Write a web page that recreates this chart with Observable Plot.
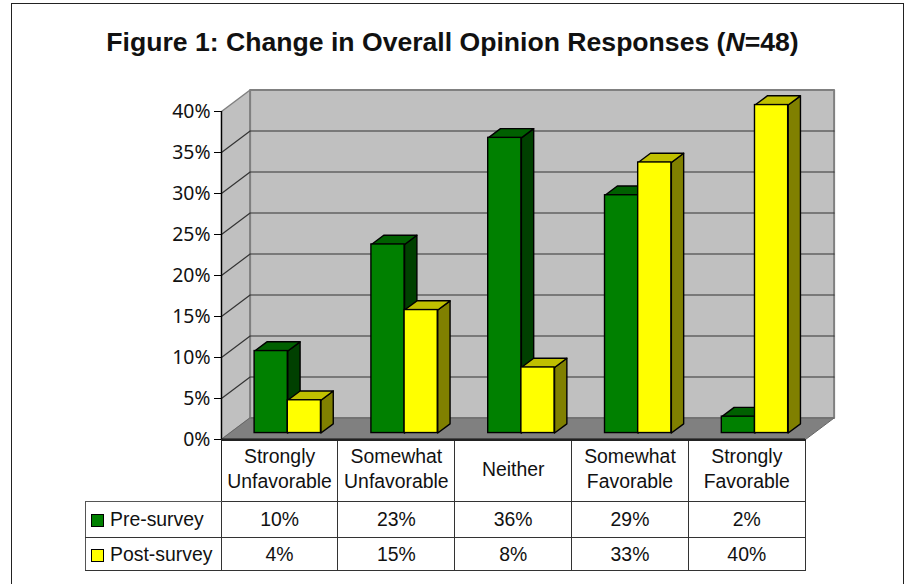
<!DOCTYPE html>
<html><head><meta charset="utf-8">
<script src="https://cdn.jsdelivr.net/npm/d3@7"></script>
<script src="https://cdn.jsdelivr.net/npm/@observablehq/plot@0.6"></script>
<style>
html,body{margin:0;padding:0;background:#fff;overflow:hidden}
#page{position:relative;width:905px;height:584px;overflow:hidden;font-family:"Liberation Sans",Arial,sans-serif;color:#111}
#frame{position:absolute;left:11px;top:3px;width:891px;height:640px;border:1.5px solid #222;box-sizing:content-box}
#title{position:relative;height:60px;line-height:84px;text-align:center;font-weight:bold;font-size:26.6px;white-space:nowrap;color:#111}
#chart{position:absolute;left:0;top:60px}
#chart svg{display:block;background:transparent;overflow:visible}
table{position:absolute;left:85px;top:439px;border-collapse:collapse;table-layout:fixed;font-size:19.4px;text-align:center;width:720px}
td{padding:0;border:1.3px solid #333;vertical-align:middle;line-height:26px;overflow:hidden;white-space:nowrap}
td.blank{border:none;border-right:1.3px solid #222;border-bottom:1.3px solid #555}
td.name{text-align:left;padding-left:5px;border-left-color:#555}
.sw{display:inline-block;width:11px;height:11px;border:1.4px solid #000;margin-right:6px;vertical-align:-1px}
tr.cat td{border-top:2px solid #222;padding-bottom:3px}
tr.cat td.blank{border-top:none;padding-bottom:0}
</style></head><body>
<div id="page">
<div id="frame"></div>
<div id="title">Figure 1: Change in Overall Opinion Responses (<i>N</i>=48)</div>
<div id="chart"></div>
<table id="tbl"></table>
</div>
<script>
const categories = [["Strongly","Unfavorable"],["Somewhat","Unfavorable"],["Neither",""],["Somewhat","Favorable"],["Strongly","Favorable"]];
const preSurvey  = [10,23,36,29,2];
const postSurvey = [4,15,8,33,40];
const yTicks = [0,5,10,15,20,25,30,35,40];
const seriesNames = ["Pre-survey","Post-survey"];
const colours = {
  pre:  {front:"#008000", top:"#006000", side:"#004000"},
  post: {front:"#ffff00", top:"#c0c000", side:"#808000"}
};

// oblique projection, expressed in data units of the two scales
const depthX = 0.245, depthY = 2.62;
const P = (c,v,d) => ({x:c + d*depthX, y:v + d*depthY});
const barNear = 0.30, barFar = 0.73, barStart = 0.21, barWidth = 0.284;

function poly(id, pts){ return pts.map(p => ({...p, id})); }
function bar(values, slot){
  const front=[], side=[], top=[];
  values.forEach((v,i)=>{
    const a=i+barStart+slot*barWidth, b=a+barWidth;
    const f1=P(a,0,barNear), f2=P(b,v,barNear);
    front.push({x1:f1.x,x2:f2.x,y1:f1.y,y2:f2.y});
    side.push(...poly(i,[P(b,0,barNear),P(b,v,barNear),P(b,v,barFar),P(b,0,barFar)]));
    top.push(...poly(i,[P(a,v,barNear),P(b,v,barNear),P(b,v,barFar),P(a,v,barFar)]));
  });
  return {front,side,top};
}
function barMarks(values,slot,c){
  const {front,side,top}=bar(values,slot);
  const s={stroke:"#000",strokeWidth:1.4};
  return [
    Plot.line(side,{x:"x",y:"y",z:"id",curve:"linear-closed",fill:c.side,...s}),
    Plot.line(top,{x:"x",y:"y",z:"id",curve:"linear-closed",fill:c.top,...s}),
    Plot.rect(front,{x1:"x1",x2:"x2",y1:"y1",y2:"y2",fill:c.front,inset:0,...s})
  ];
}
const n = categories.length, yMax = 40;
const backWall = poly(0,[P(0,0,1),P(n,0,1),P(n,yMax,1),P(0,yMax,1)]);
const sideWall = poly(0,[P(0,0,0),P(0,yMax,0),P(0,yMax,1),P(0,0,1)]);
const floor    = poly(0,[P(0,0,0),P(n,0,0),P(n,0,1),P(0,0,1)]);
const grid = yTicks.filter(t=>t>0&&t<yMax).flatMap(t=>poly(t,[P(0,t,0),P(0,t,1),P(n,t,1)]));

const plot = Plot.plot({
  width:905, height:385,
  marginLeft:221, marginRight:100, marginTop:51, marginBottom:6,
  style:{background:"transparent",color:"#111"},
  x:{domain:[0,n],axis:null},
  y:{domain:[0,yMax],axis:null},
  marks:[
    Plot.line(sideWall,{x:"x",y:"y",z:"id",curve:"linear-closed",fill:"#c0c0c0",stroke:"#808080",strokeWidth:1.5}),
    Plot.line(backWall,{x:"x",y:"y",z:"id",curve:"linear-closed",fill:"#c0c0c0",stroke:"#808080",strokeWidth:2}),
    Plot.line(grid,{x:"x",y:"y",z:"id",stroke:"#333",strokeWidth:1.2}),
    Plot.line(floor,{x:"x",y:"y",z:"id",curve:"linear-closed",fill:"#808080",stroke:"#666",strokeWidth:1}),
    ...barMarks(preSurvey,0,colours.pre),
    ...barMarks(postSurvey,1,colours.post),
    Plot.ruleX([0],{stroke:"#000",strokeWidth:1.3}),
    Plot.ruleY([0],{stroke:"#111",strokeWidth:2}),
    Plot.axisY({ticks:yTicks,tickFormat:d=>d+"%",tickSize:7,tickPadding:4,label:null,fontSize:19.4,stroke:"#000",fill:"#111"})
  ]
});
document.getElementById("chart").appendChild(plot);

// data table beneath the chart
const tbl=document.getElementById("tbl");
const cg=document.createElement("colgroup");
[135.7,...categories.map(()=>116.8)].forEach(w=>{const c=document.createElement("col");c.style.width=w+"px";cg.appendChild(c);});
tbl.appendChild(cg);
const cat=tbl.insertRow();cat.className="cat";cat.style.height="61px";
const blank=cat.insertCell();blank.className="blank";
categories.forEach(c=>{const td=cat.insertCell();td.style.lineHeight="25px";td.innerHTML=c.filter(Boolean).join("<br>");});
[[seriesNames[0],preSurvey,colours.pre.front,36],[seriesNames[1],postSurvey,colours.post.front,33]].forEach(([name,vals,col,h])=>{
  const r=tbl.insertRow();r.style.height=h+"px";
  const th=r.insertCell();th.className="name";
  th.innerHTML=`<span class="sw" style="background:${col}"></span>${name}`;
  vals.forEach(v=>{r.insertCell().textContent=v+"%";});
});
</script>
</body></html>
